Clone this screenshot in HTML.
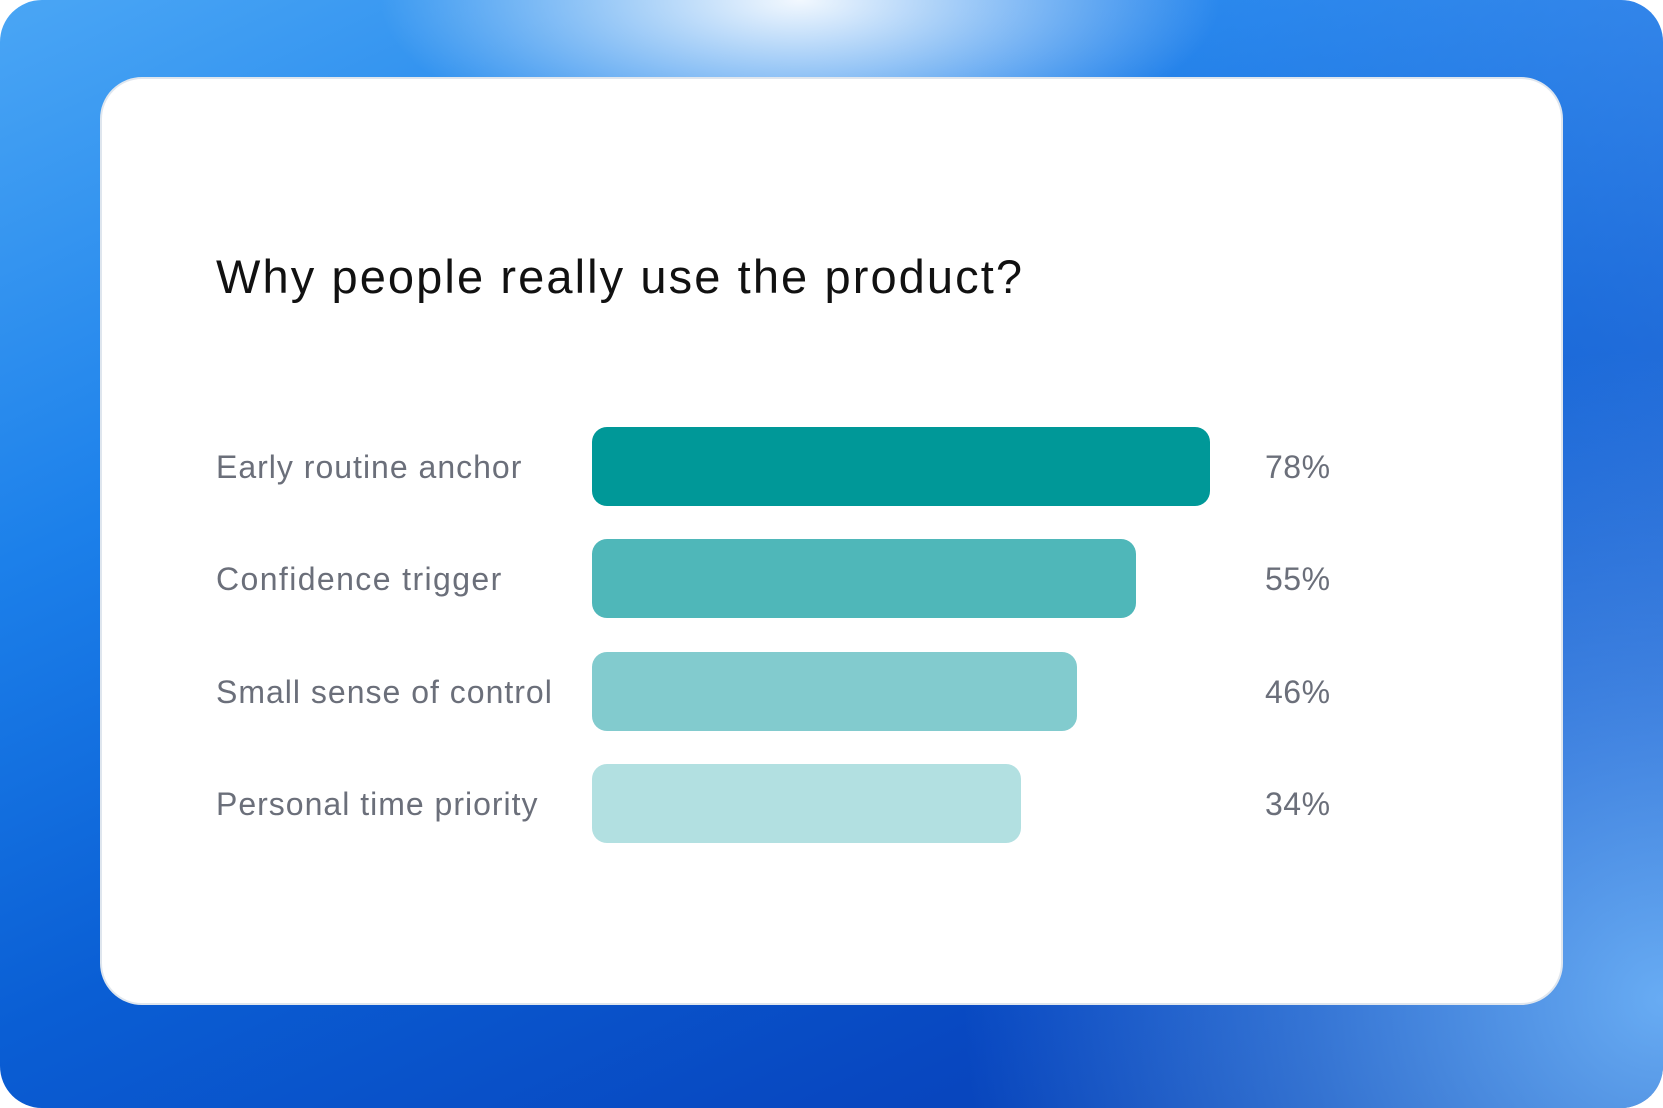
<!DOCTYPE html>
<html><head><meta charset="utf-8"><style>
*{margin:0;padding:0;box-sizing:border-box}
html,body{width:1663px;height:1108px;overflow:hidden;background:#fff}
.bg{position:absolute;left:0;top:0;width:1663px;height:1108px;border-radius:42px;overflow:hidden;
background:
radial-gradient(ellipse 420px 160px at 800px 0px, rgba(255,255,255,0.95), rgba(255,255,255,0) 100%),
linear-gradient(155deg, #4aa6f5 0%, #1c80ea 30%, #0a5ed4 55%, #0847c0 80%, #0a3faa 100%);}
.bg2{position:absolute;inset:0;background:linear-gradient(230deg, rgba(120,180,255,0.3) 0%, rgba(120,180,255,0) 35%, rgba(0,0,0,0) 55%, rgba(110,180,255,0.0) 100%)}
.bg3{position:absolute;inset:0;background:radial-gradient(ellipse 700px 650px at 1663px 1000px, rgba(120,190,255,0.85), rgba(120,190,255,0.4) 50%, rgba(120,190,255,0) 100%)}
.card{position:absolute;left:100px;top:77px;width:1463px;height:928px;background:#fff;border-radius:42px;border:2px solid #dfe6ee}
.t{position:absolute;font-family:"Liberation Sans",sans-serif}
.title{left:216px;top:249px;font-size:47px;color:#111;letter-spacing:2.1px}
.lab{left:216px;font-size:32px;color:#6b6f7a;letter-spacing:1px}
.pct{left:1265px;font-size:32px;color:#6b6f7a;letter-spacing:0.5px}
.bar{position:absolute;left:592px;height:79px;border-radius:15px}
</style></head><body>
<div class="bg"><div class="bg2"></div><div class="bg3"></div></div>
<div class="card"></div>
<div class="t title">Why people really use the product?</div>
<div class="bar" style="top:427px;width:618px;background:#009898"></div>
<div class="bar" style="top:539px;width:544px;background:#4fb7b9"></div>
<div class="bar" style="top:652px;width:485px;background:#82cbce"></div>
<div class="bar" style="top:764px;width:429px;background:#b2e0e1"></div>
<div class="t lab" style="top:449px">Early routine anchor</div>
<div class="t lab" style="top:561px;letter-spacing:1.4px">Confidence trigger</div>
<div class="t lab" style="top:674px">Small sense of control</div>
<div class="t lab" style="top:786px">Personal time priority</div>
<div class="t pct" style="top:449px">78%</div>
<div class="t pct" style="top:561px">55%</div>
<div class="t pct" style="top:674px">46%</div>
<div class="t pct" style="top:786px">34%</div>
</body></html>
